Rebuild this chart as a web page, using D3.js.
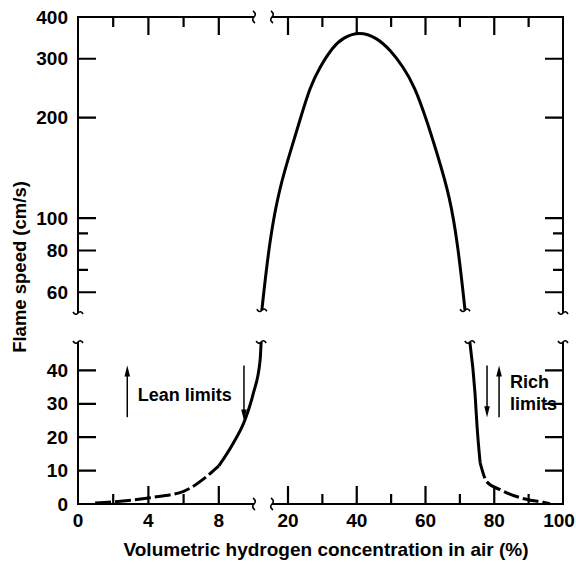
<!DOCTYPE html>
<html lang="en">
<head>
<meta charset="UTF-8">
<title>Flame speed</title>
<script src="https://cdn.jsdelivr.net/npm/d3@7"></script>
<style>
    body { margin: 0; background: #fff; }
    svg text { font-family: "Liberation Sans", Arial, sans-serif; font-weight: bold; fill: #000; }
</style>
</head>
<body>
<div id="chart"></div>
<script>
    // lean branch, lower (linear) part of the y axis
    var leanX = [0.97, 2.1, 4.1, 6.0, 7.3, 8.0, 8.82, 9.49, 9.96, 11.8, 12.1];
    var leanY = [0.3, 0.7, 1.9, 3.8, 8.2, 11.4, 18.2, 25.2, 33.1, 43.1, 48.5];

    // upper (log) part, the arch
    var archX = [12.3, 14.7, 17.6, 20.6, 23.5, 26.4, 29.3, 33.1, 36.0, 40.8, 45.8, 49.7, 53.5, 56.9, 60.3, 63.3, 67.1, 69.5, 71.5];
    var archY = [53, 88, 124, 157, 197, 247, 284, 326, 347, 362, 347, 319, 284, 247, 197, 157, 116, 82, 53];

    // rich branch, lower part
    var richX = [72.9, 74.4, 75.0, 75.9, 77.8, 81.7, 87.5, 94.2, 96.2];
    var richY = [48.5, 33.2, 23.2, 12.3, 6.7, 4.3, 1.9, 0.5, 0.1];

    var xMajor = [4, 8, 20, 40, 60, 80];
    var xMinor = [2, 6, 30, 50, 70, 90];
    var xLabels = [0, 4, 8, 20, 40, 60, 80, 100];
    var yLowTicks = [10, 20, 30, 40];
    var yLowLabels = [0, 10, 20, 30, 40];
    var yHighMajor = [60, 80, 100, 200, 300];
    var yHighMinor = [70, 90];
    var yHighLabels = [60, 80, 100, 200, 300, 400];

    // arrows: x, from, to (in data units)
    var arrows = [
        {x: 2.8, from: 26, to: 41.5},
        {x: 9.43, from: 41.5, to: 25},
        {x: 77.9, from: 41.5, to: 26},
        {x: 81.4, from: 26, to: 41.5}
    ];

    var W = 576, H = 564;
    var mLeft = 78, mRight = 563, mTop = 17, mBottom = 504;
    var breakY1 = 313, breakY2 = 342;   // y break (upper axis ends / lower starts)
    var breakX1 = 254, breakX2 = 272;   // x break

    var x = d3.scaleLinear().domain([0, 10, 20, 100]).range([mLeft, 254, 288, mRight]);
    var yLow = d3.scaleLinear().domain([0, 48.5]).range([mBottom, breakY2]);
    var yHigh = d3.scaleLog().domain([52, 400]).range([breakY1, mTop]);

    var svg = d3.select('#chart').append('svg')
        .attr('width', W)
        .attr('height', H);

    // axis lines with breaks
    var axes = svg.append('g').attr('stroke', '#000').attr('stroke-width', 2).attr('fill', 'none');
    [mLeft, mRight].forEach(function (xx) {
        axes.append('line').attr('x1', xx).attr('x2', xx).attr('y1', mTop - 1).attr('y2', breakY1);
        axes.append('line').attr('x1', xx).attr('x2', xx).attr('y1', breakY2).attr('y2', mBottom + 1);
    });
    [mTop, mBottom].forEach(function (yy) {
        axes.append('line').attr('x1', mLeft).attr('x2', breakX1).attr('y1', yy).attr('y2', yy);
        axes.append('line').attr('x1', breakX2).attr('x2', mRight).attr('y1', yy).attr('y2', yy);
    });

    // small tilde for the breaks
    function hTilde(cx, cy) {
        return 'M' + (cx - 5) + ',' + (cy - 1) + ' Q' + (cx - 2.5) + ',' + (cy + 3) + ' ' + cx + ',' + cy +
            ' T' + (cx + 5) + ',' + (cy + 1);
    }
    function vTilde(cx, cy) {
        return 'M' + (cx - 1) + ',' + (cy - 6) + ' Q' + (cx + 3) + ',' + (cy - 3) + ' ' + cx + ',' + cy +
            ' T' + (cx + 1) + ',' + (cy + 6);
    }
    [mLeft, mRight].forEach(function (xx) {
        axes.append('path').attr('d', hTilde(xx, breakY1)).attr('stroke-width', 1.6);
        axes.append('path').attr('d', hTilde(xx, breakY2)).attr('stroke-width', 1.6);
    });
    [mTop, mBottom].forEach(function (yy) {
        axes.append('path').attr('d', vTilde(breakX1, yy)).attr('stroke-width', 1.6);
        axes.append('path').attr('d', vTilde(breakX2, yy)).attr('stroke-width', 1.6);
    });

    // inward ticks, collected into one path
    var tp = d3.path();
    function xTicks(values, yy, len) {
        values.forEach(function (d) { tp.moveTo(x(d), yy); tp.lineTo(x(d), yy + len); });
    }
    function yTicks(values, scale, xx, len) {
        values.forEach(function (d) { tp.moveTo(xx, scale(d)); tp.lineTo(xx + len, scale(d)); });
    }
    xTicks(xMajor, mBottom, -18);
    xTicks(xMinor, mBottom, -10);
    xTicks(xMajor, mTop, 18);
    xTicks(xMinor, mTop, 10);
    yTicks(yHighMajor, yHigh, mLeft, 18);
    yTicks(yHighMinor, yHigh, mLeft, 10);
    yTicks(yLowTicks, yLow, mLeft, 18);
    yTicks(yHighMajor, yHigh, mRight, -18);
    yTicks(yHighMinor, yHigh, mRight, -10);
    yTicks(yLowTicks, yLow, mRight, -18);

    // tick labels
    var lab = svg.append('g').attr('font-size', 19);
    lab.selectAll(null).data(xLabels).join('text')
        .attr('x', function (d) { return x(d) + (d === 100 ? -4 : 0); })
        .attr('y', mBottom + 23)
        .attr('text-anchor', 'middle')
        .text(function (d) { return d; });
    lab.selectAll(null).data(yHighLabels).join('text')
        .attr('x', mLeft - 10)
        .attr('y', function (d) { return yHigh(d); })
        .attr('dy', '0.35em')
        .attr('text-anchor', 'end')
        .text(function (d) { return d; });
    lab.selectAll(null).data(yLowLabels).join('text')
        .attr('x', mLeft - 10)
        .attr('y', function (d) { return yLow(d); })
        .attr('dy', '0.35em')
        .attr('text-anchor', 'end')
        .text(function (d) { return d; });

    // curves
    var lowLine = d3.line().x(function (d) { return x(d[0]); }).y(function (d) { return yLow(d[1]); })
        .curve(d3.curveMonotoneX);
    var highLine = d3.line().x(function (d) { return x(d[0]); }).y(function (d) { return yHigh(d[1]); })
        .curve(d3.curveBasis);

    var lean = leanX.map(function (v, i) { return [v, leanY[i]]; });
    var arch = archX.map(function (v, i) { return [v, archY[i]]; });
    var rich = richX.map(function (v, i) { return [v, richY[i]]; });

    var curves = svg.append('g').attr('fill', 'none').attr('stroke', '#000').attr('stroke-width', 3);
    curves.append('path').attr('d', lowLine(lean.filter(function (d) { return d[0] <= 8; })))
        .attr('stroke-dasharray', '16,4');
    curves.append('path').attr('d', lowLine(lean.filter(function (d) { return d[0] >= 8; })));
    curves.append('path').attr('d', highLine(arch));
    curves.append('path').attr('d', lowLine(rich.filter(function (d) { return d[0] <= 75.9; })));
    curves.append('path').attr('d', lowLine(rich.filter(function (d) { return d[0] >= 75.9; })))
        .attr('stroke-dasharray', '16,4');

    // break marks on the curve ends
    var ends = [
        [x(arch[0][0]), yHigh(arch[0][1])],
        [x(arch[arch.length - 1][0]), yHigh(arch[arch.length - 1][1])],
        [x(lean[lean.length - 1][0]), yLow(lean[lean.length - 1][1])],
        [x(rich[0][0]), yLow(rich[0][1])]
    ];
    ends.forEach(function (p) {
        curves.append('path').attr('d', hTilde(p[0], p[1])).attr('stroke-width', 1.6);
    });

    // arrows
    var ar = svg.append('g');
    arrows.forEach(function (a) {
        var xx = x(a.x), y1 = yLow(a.from), y2 = yLow(a.to);
        var dir = y2 < y1 ? 1 : -1;
        ar.append('line').attr('x1', xx).attr('x2', xx).attr('y1', y1).attr('y2', y2 + dir * 8)
            .attr('stroke', '#000').attr('stroke-width', 1.5);
        ar.append('path')
            .attr('d', 'M' + xx + ',' + y2 + ' L' + (xx - 2.8) + ',' + (y2 + dir * 11) + ' L' + (xx + 2.8) + ',' + (y2 + dir * 11) + 'Z')
            .attr('fill', '#000');
    });

    svg.append('text').attr('x', x(3.4)).attr('y', yLow(30.8)).attr('font-size', 18).text('Lean limits');
    svg.append('text').attr('x', x(84.6)).attr('y', yLow(34.7)).attr('font-size', 18).text('Rich');
    svg.append('text').attr('x', x(84.6)).attr('y', yLow(28.1)).attr('font-size', 18).text('limits');

    // axis titles
    svg.append('text').attr('x', 326).attr('y', 556).attr('text-anchor', 'middle').attr('font-size', 19)
        .text('Volumetric hydrogen concentration in air (%)');
    svg.append('text').attr('transform', 'translate(26,267) rotate(-90)').attr('text-anchor', 'middle')
        .attr('font-size', 18.5).text('Flame speed (cm/s)');

    // ticks last, on top of everything
    svg.append('path').attr('d', tp.toString())
        .attr('fill', 'none').attr('stroke', '#000').attr('stroke-width', 2.2);
</script>
</body>
</html>
